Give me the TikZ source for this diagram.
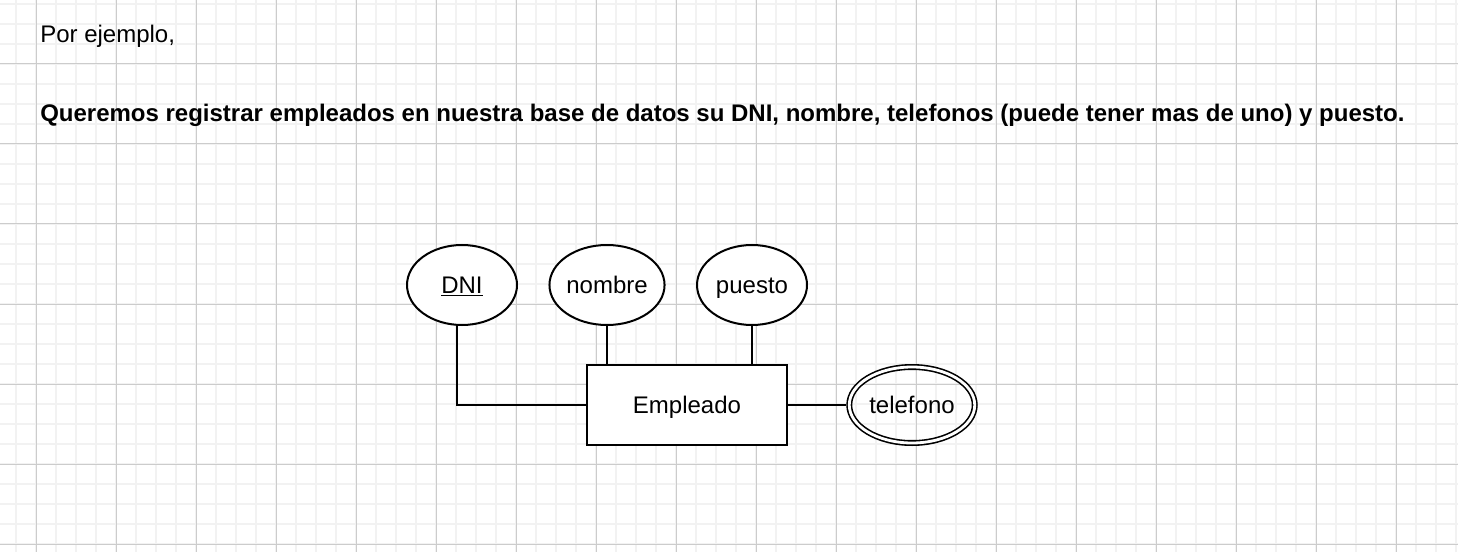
\documentclass[tikz,border=0pt]{standalone}
\usepackage{fontspec}
\setmainfont{Liberation Sans}
\usepackage{tikz}
\usetikzlibrary{shapes.geometric}
\tikzset{
  ernode/.style = {align=center, inner sep=0pt, text centered,
    text height=13pt, text depth=0pt,
    font=\fontsize{18}{21.6}\selectfont},
  attr/.style = {ernode, ellipse, draw=black, line width=1.5pt,
    fill=white, minimum width=82.5pt, minimum height=60pt},% atributo simple
  multiattr/.style = {ernode, ellipse, draw=black, line width=1.2pt,
    double=white, double distance=2.1pt, outer sep=2.25pt,
    minimum width=94.1pt, minimum height=57pt},% atributo multivaluado
  entity/.style = {ernode, rectangle, draw=black, line width=1.5pt,
    fill=white, minimum width=150pt, minimum height=60pt},% entidad
  erlink/.style = {draw=black, line width=1.5pt},
  gridminor/.style = {draw=black!5, line width=1.1pt},
  gridmajor/.style = {draw=black!20, line width=0.75pt},
  plaintext/.style = {inner sep=0pt, anchor=base west,
    font=\fontsize{18}{21.6}\selectfont}
}

\begin{document}
\begin{tikzpicture} [x=0.75pt, y=-0.75pt]
    \useasboundingbox (0,0) rectangle (1458,552);
    % cuadricula
    \foreach \gx in {16,36,...,1456} \draw [gridminor] (\gx,0) -- (\gx,552);
    \foreach \gy in {4,24,...,544} \draw [gridminor] (0,\gy) -- (1458,\gy);
    \foreach \gx in {36,116,...,1396} \draw [gridmajor] (\gx,0) -- (\gx,552);
    \foreach \gy in {64,144,...,544} \draw [gridmajor] (0,\gy) -- (1458,\gy);
    % enunciado
    \node [plaintext] (intro) at (40,43) {Por ejemplo,};
    \node [plaintext, font=\fontsize{18}{21.6}\selectfont\bfseries] (enun) at (40,122)
      {Queremos registrar empleados en nuestra base de datos su DNI, nombre, telefonos (puede tener mas de uno) y puesto.};
    % diagrama
    \node [entity] (emp) at (687,405) {Empleado};
    \node [attr] (dni) at (462,285) {\underline{DNI}};
    \node [attr] (nombre) at (607,285) {nombre};
    \node [attr] (puesto) at (752,285) {puesto};
    \node [multiattr] (tel) at (912,405) {telefono};
    \draw [erlink] ([xshift=-3.75pt]dni.south) |- (emp.west);
    \draw [erlink] (nombre.south) -- (nombre.south |- emp.north);
    \draw [erlink] (puesto.south) -- (puesto.south |- emp.north);
    \draw [erlink] (emp.east) -- (tel.west);
\end{tikzpicture}
\end{document}
